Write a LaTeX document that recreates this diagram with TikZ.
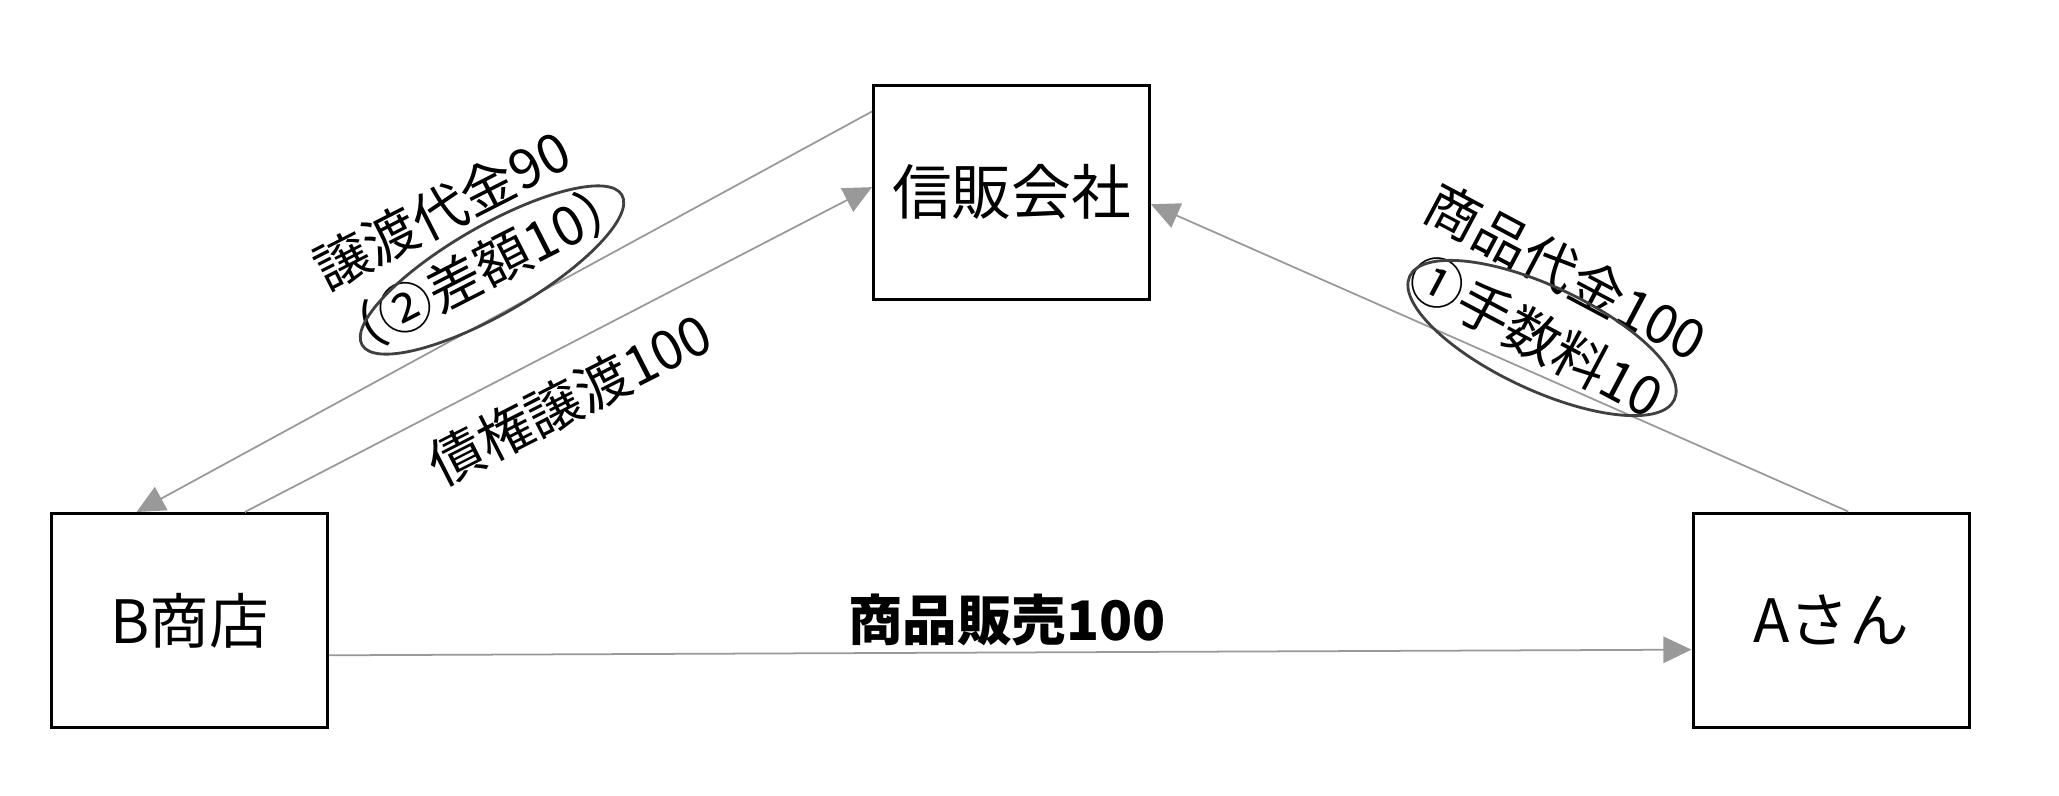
\documentclass[tikz,border=0pt]{standalone}
\usepackage{fontspec}
\setmainfont{Noto Sans CJK JP}
\usetikzlibrary{arrows.meta}
\usetikzlibrary{shapes.geometric}
\tikzset{
  party/.style = {draw, line width=0.85pt, minimum width=2.76cm, minimum height=2.14cm, font=\fontsize{17}{20}\selectfont},
  flow/.style = {draw=black!40, line width=0.5pt, -{Triangle[length=8pt,width=7.5pt]}},
  lbl/.style = {inner sep=0pt, font=\fontsize{15.5}{18}\selectfont},
  oval/.style = {draw=black!75, line width=0.8pt, ellipse, inner sep=0pt}
}

\begin{document}
\begin{tikzpicture}[x=0.1mm,y=-0.1mm]
  \useasboundingbox (0,0) rectangle (2059,795);
  \node[party] (shinpan) at (1011.5,192) {信販会社};
  \node[party] (bshop) at (189.5,620.5) {B商店};
  \node[party] (asan) at (1831,620) {Aさん};

  \draw[flow] (shinpan.150) -- (bshop.116);
  \draw[flow] (bshop.63) -- (shinpan.178);
  \draw[flow] (asan.81) -- (shinpan.-5);
  \draw[flow] (bshop.-14) -- (asan.192);

  \node[lbl, rotate=27] (jotoL) at (442,210) {譲渡代金90};
  \node[lbl, rotate=27] (sagakuL) at (481,269) {（②差額10）};
  \node[oval, rotate=30, minimum width=3cm, minimum height=0.88cm] (sagakuO) at (492,270) {};
  \node[lbl, rotate=27] (saikenL) at (570,399) {債権譲渡100};

  \node[lbl, rotate=-28] (daikinL) at (1566,272) {商品代金100};
  \node[lbl, rotate=-28] (tesuL) at (1536,336) {①手数料10};
  \node[oval, rotate=-25, minimum width=2.92cm, minimum height=1.04cm] (tesuO) at (1542,338) {};

  \node[lbl, font=\fontsize{15.5}{18}\selectfont\bfseries] (hanbaiL) at (1007,620) {商品販売100};
\end{tikzpicture}
\end{document}
